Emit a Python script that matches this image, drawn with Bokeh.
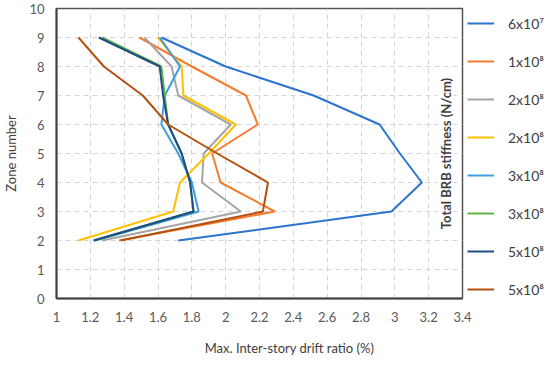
import math
from bokeh.plotting import figure
from bokeh.models import FixedTicker, Legend, LegendItem, Label
from bokeh.embed import file_html
from bokeh.resources import INLINE

# ---- data ----
zones = [2, 3, 4, 5, 6, 7, 8, 9]
s_6e7 = [1.72, 2.98, 3.16, 3.03, 2.91, 2.52, 2.00, 1.62]
s_1e8 = [1.37, 2.29, 1.97, 1.92, 2.19, 2.12, 1.80, 1.49]
s_2e8a = [1.27, 2.09, 1.86, 1.87, 2.03, 1.72, 1.68, 1.52]
s_2e8b = [1.13, 1.69, 1.73, 1.90, 2.06, 1.75, 1.74, 1.60]
s_3e8a = [1.23, 1.84, 1.80, 1.72, 1.62, 1.64, 1.73, 1.61]
s_3e8b = [1.22, 1.81, 1.79, 1.74, 1.66, 1.64, 1.62, 1.27]
s_5e8a = [1.22, 1.81, 1.79, 1.74, 1.66, 1.63, 1.61, 1.25]
s_5e8b = [1.38, 2.22, 2.25, 1.95, 1.66, 1.51, 1.28, 1.13]

series = [s_6e7, s_1e8, s_2e8a, s_2e8b, s_3e8a, s_3e8b, s_5e8a, s_5e8b]
labels = ["6x10\u2077", "1x10\u2078", "2x10\u2078", "2x10\u2078",
          "3x10\u2078", "3x10\u2078", "5x10\u2078", "5x10\u2078"]
colors = ["#2B74CF", "#F47C30", "#A5A5A5", "#FFC000",
          "#3C9EDE", "#5DB445", "#1F4A84", "#B5500F"]

x_ticks = [1, 1.2, 1.4, 1.6, 1.8, 2, 2.2, 2.4, 2.6, 2.8, 3, 3.2, 3.4]
x_tick_labels = ["1", "1.2", "1.4", "1.6", "1.8", "2", "2.2", "2.4",
                 "2.6", "2.8", "3", "3.2", "3.4"]
y_ticks = [0, 1, 2, 3, 4, 5, 6, 7, 8, 9, 10]

x_title = "Max. Inter-story drift ratio (%)"
y_title = "Zone number"
legend_title = "Total BRB stiffness (N/cm)"

FONT = "Lato"

p = figure(frame_width=406, frame_height=290, x_range=(1, 3.4), y_range=(0, 10),
           output_backend="svg", toolbar_location=None,
           min_border_left=48, min_border_top=8, min_border_right=0,
           min_border_bottom=50)
p.background_fill_color = "white"
p.border_fill_color = "white"
p.outline_line_color = "#555555"
p.outline_line_width = 1.5

# grid
p.xgrid.ticker = FixedTicker(ticks=x_ticks)
p.ygrid.ticker = FixedTicker(ticks=y_ticks)
for g in (p.xgrid, p.ygrid):
    g.grid_line_color = "#D4D4D4"
    g.grid_line_dash = "5 4"
    g.grid_line_width = 1

# axes
p.xaxis.ticker = FixedTicker(ticks=x_ticks)
p.xaxis.major_label_overrides = {t: s for t, s in zip(x_ticks, x_tick_labels)}
p.yaxis.ticker = FixedTicker(ticks=y_ticks)
for ax in (p.xaxis, p.yaxis):
    ax.axis_line_color = "#404040"
    ax.axis_line_width = 2
    ax.major_tick_line_color = None
    ax.minor_tick_line_color = None
    ax.major_tick_out = 0
    ax.major_tick_in = 0
    ax.major_label_text_font = FONT
    ax.major_label_text_font_size = "13px"
    ax.major_label_text_color = "#595959"
    ax.axis_label_text_font = FONT
    ax.axis_label_text_font_size = "13px"
    ax.axis_label_text_font_style = "normal"
    ax.axis_label_text_color = "#404040"
p.xaxis.major_label_standoff = 13
p.yaxis.major_label_standoff = 12
p.yaxis.axis_label = y_title
p.yaxis.axis_label_standoff = 7
# title sits right of the frame centre in the reference; pad with no-break spaces
p.xaxis.axis_label = "\u00a0" * 18 + x_title
p.xaxis.axis_label_standoff = 15

items = []
for ys, lab, col in zip(series, labels, colors):
    r = p.line(ys, zones, line_color=col, line_width=2)
    items.append(LegendItem(label=lab, renderers=[r]))

legend = Legend(items=items, location="top_left", margin=0, padding=5,
                spacing=18, glyph_width=27, glyph_height=20, label_height=20,
                label_standoff=14, label_text_font=FONT,
                label_text_font_size="14px", label_text_color="#404040",
                border_line_alpha=0, background_fill_alpha=0)
p.add_layout(legend, "right")

# rotated legend title inside the frame
p.add_layout(Label(x=3.30, y=5.0, text=legend_title, angle=math.pi / 2,
                   text_align="center", text_baseline="middle",
                   text_font=FONT, text_font_size="13px",
                   text_font_style="bold", text_color="#404040",
                   background_fill_color="white"))

open("out.html", "w").write(file_html(p, INLINE))
